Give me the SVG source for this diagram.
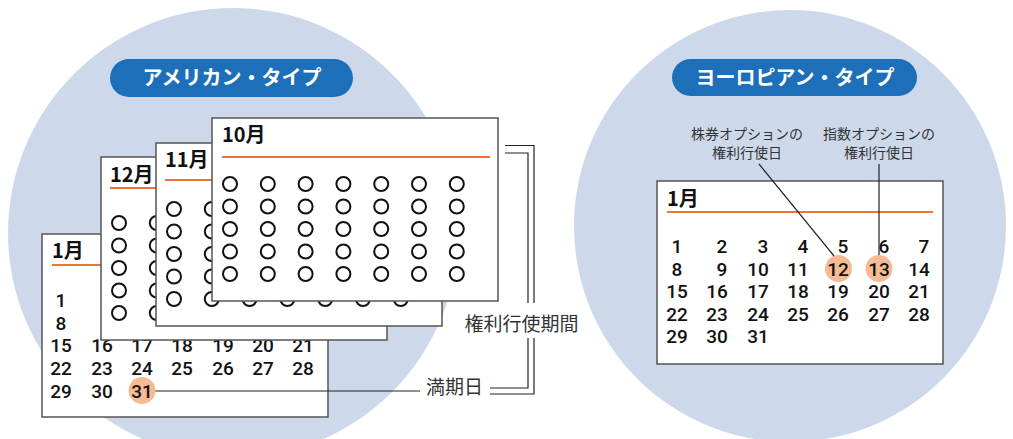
<svg xmlns="http://www.w3.org/2000/svg" xmlns:xlink="http://www.w3.org/1999/xlink" width="1013" height="439" viewBox="0 0 1013 439">
<style>
.bg{fill:#cdd9ea}
.pill{fill:#1e6fb9}
.pilltxt{font-family:"Noto Sans CJK JP","Noto Sans",sans-serif;font-size:20px;font-weight:700;fill:#fff;text-anchor:middle}
.card{fill:#fff;stroke:#555;stroke-width:1.5}
.title{font-family:"Noto Sans CJK JP","Noto Sans",sans-serif;font-size:20px;font-weight:700;fill:#111}
.rule{stroke:#f07238;stroke-width:2}
.dot{fill:none;stroke:#111;stroke-width:2}
.num{font-family:Roboto,"Liberation Sans",sans-serif;font-size:19px;font-weight:500;fill:#111;text-anchor:middle}
.hl{fill:#f6bb95}
.lbl{font-family:"Noto Sans CJK JP","Noto Sans",sans-serif;font-size:19px;fill:#333}
.small{font-family:"Noto Sans CJK JP","Noto Sans",sans-serif;font-size:14px;fill:#333;text-anchor:middle}
.ln{fill:none;stroke:#222;stroke-width:1.2}
</style>
<defs>
<g id="dots" class="dot">
<circle cx="18" cy="66" r="7"/><circle cx="55.8" cy="66" r="7"/><circle cx="93.6" cy="66" r="7"/><circle cx="131.4" cy="66" r="7"/><circle cx="169.2" cy="66" r="7"/><circle cx="207" cy="66" r="7"/><circle cx="244.8" cy="66" r="7"/>
<circle cx="18" cy="88.5" r="7"/><circle cx="55.8" cy="88.5" r="7"/><circle cx="93.6" cy="88.5" r="7"/><circle cx="131.4" cy="88.5" r="7"/><circle cx="169.2" cy="88.5" r="7"/><circle cx="207" cy="88.5" r="7"/><circle cx="244.8" cy="88.5" r="7"/>
<circle cx="18" cy="111" r="7"/><circle cx="55.8" cy="111" r="7"/><circle cx="93.6" cy="111" r="7"/><circle cx="131.4" cy="111" r="7"/><circle cx="169.2" cy="111" r="7"/><circle cx="207" cy="111" r="7"/><circle cx="244.8" cy="111" r="7"/>
<circle cx="18" cy="133.5" r="7"/><circle cx="55.8" cy="133.5" r="7"/><circle cx="93.6" cy="133.5" r="7"/><circle cx="131.4" cy="133.5" r="7"/><circle cx="169.2" cy="133.5" r="7"/><circle cx="207" cy="133.5" r="7"/><circle cx="244.8" cy="133.5" r="7"/>
<circle cx="18" cy="156" r="7"/><circle cx="55.8" cy="156" r="7"/><circle cx="93.6" cy="156" r="7"/><circle cx="131.4" cy="156" r="7"/><circle cx="169.2" cy="156" r="7"/><circle cx="207" cy="156" r="7"/><circle cx="244.8" cy="156" r="7"/>
</g>
</defs>

<g id="american-bg">
<circle class="bg" cx="233" cy="233" r="225"/>
<rect class="pill" x="110" y="59" width="243" height="38" rx="19"/>
<text class="pilltxt" x="232" y="85">アメリカン・タイプ</text>
</g>

<g id="european-bg">
<circle class="bg" cx="790" cy="226" r="216"/>
<rect class="pill" x="672" y="59" width="245" height="37" rx="18.5"/>
<text class="pilltxt" x="795" y="85">ヨーロピアン・タイプ</text>
</g>

<g id="cal-jan-am">
<rect class="card" x="42" y="234" width="286" height="183"/>
<text class="title" x="52" y="258">1月</text>
<line class="rule" x1="52" y1="265" x2="318" y2="265"/>
<circle class="hl" cx="142" cy="390.5" r="13.5"/>
<g class="num">
<text x="61" y="307">1</text>
<text x="61" y="329.5">8</text>
<text x="61" y="352">15</text><text x="102" y="352">16</text><text x="142" y="352">17</text><text x="182" y="352">18</text><text x="223" y="352">19</text><text x="263" y="352">20</text><text x="303" y="352">21</text>
<text x="61" y="375">22</text><text x="102" y="375">23</text><text x="142" y="375">24</text><text x="182" y="375">25</text><text x="223" y="375">26</text><text x="263" y="375">27</text><text x="303" y="375">28</text>
<text x="61" y="397.5">29</text><text x="102" y="397.5">30</text><text x="142" y="397.5">31</text>
</g>
</g>

<g id="cal-dec">
<rect class="card" x="101" y="157" width="286" height="183"/>
<text class="title" x="110" y="182">12月</text>
<line class="rule" x1="110" y1="188" x2="377" y2="188"/>
<use xlink:href="#dots" x="101" y="157"/>
</g>

<g id="cal-nov">
<rect class="card" x="156" y="143" width="286" height="183"/>
<text class="title" x="165" y="167">11月</text>
<line class="rule" x1="165" y1="180" x2="432" y2="180"/>
<use xlink:href="#dots" x="156" y="143"/>
</g>

<g id="cal-oct">
<rect class="card" x="212" y="118" width="286" height="183"/>
<text class="title" x="222" y="142">10月</text>
<line class="rule" x1="222" y1="157" x2="490" y2="157"/>
<use xlink:href="#dots" x="212" y="118"/>
</g>

<g id="label-period">
<text class="lbl" x="521.5" y="331" text-anchor="middle">権利行使期間</text>
</g>
<g id="label-expiry">
<text class="lbl" x="426" y="394">満期日</text>
</g>

<g id="cal-jan-eu">
<rect class="card" x="657" y="181" width="286" height="183"/>
<text class="title" x="667" y="206">1月</text>
<line class="rule" x1="667" y1="212" x2="933" y2="212"/>
<circle class="hl" cx="838.5" cy="268.5" r="13.5"/>
<circle class="hl" cx="879" cy="268.5" r="13.5"/>
<g class="num">
<text x="677" y="253">1</text><text x="722" y="253">2</text><text x="763" y="253">3</text><text x="803" y="253">4</text><text x="843" y="253">5</text><text x="884" y="253">6</text><text x="924" y="253">7</text>
<text x="677" y="275.5">8</text><text x="722" y="275.5">9</text><text x="758" y="275.5">10</text><text x="798" y="275.5">11</text><text x="838" y="275.5">12</text><text x="879" y="275.5">13</text><text x="919" y="275.5">14</text>
<text x="677" y="298">15</text><text x="717" y="298">16</text><text x="758" y="298">17</text><text x="798" y="298">18</text><text x="838" y="298">19</text><text x="879" y="298">20</text><text x="919" y="298">21</text>
<text x="677" y="320.5">22</text><text x="717" y="320.5">23</text><text x="758" y="320.5">24</text><text x="798" y="320.5">25</text><text x="838" y="320.5">26</text><text x="879" y="320.5">27</text><text x="919" y="320.5">28</text>
<text x="677" y="343">29</text><text x="717" y="343">30</text><text x="758" y="343">31</text>
</g>
</g>

<g id="label-stock">
<text class="small" x="747" y="139">株券オプションの</text>
<text class="small" x="747" y="158">権利行使日</text>
</g>
<g id="label-index">
<text class="small" x="879" y="139">指数オプションの</text>
<text class="small" x="879" y="158">権利行使日</text>
</g>

<g id="connectors" class="ln">
<line x1="155.5" y1="391" x2="420" y2="391"/>
<path d="M505,145.5 H534 V303 M534,338 V394 H490"/>
<path d="M505,153 H528 V303 M528,338 V388 H490"/>
<line x1="759" y1="164" x2="834" y2="256"/>
<line x1="879" y1="164" x2="879" y2="255"/>
</g>
</svg>
